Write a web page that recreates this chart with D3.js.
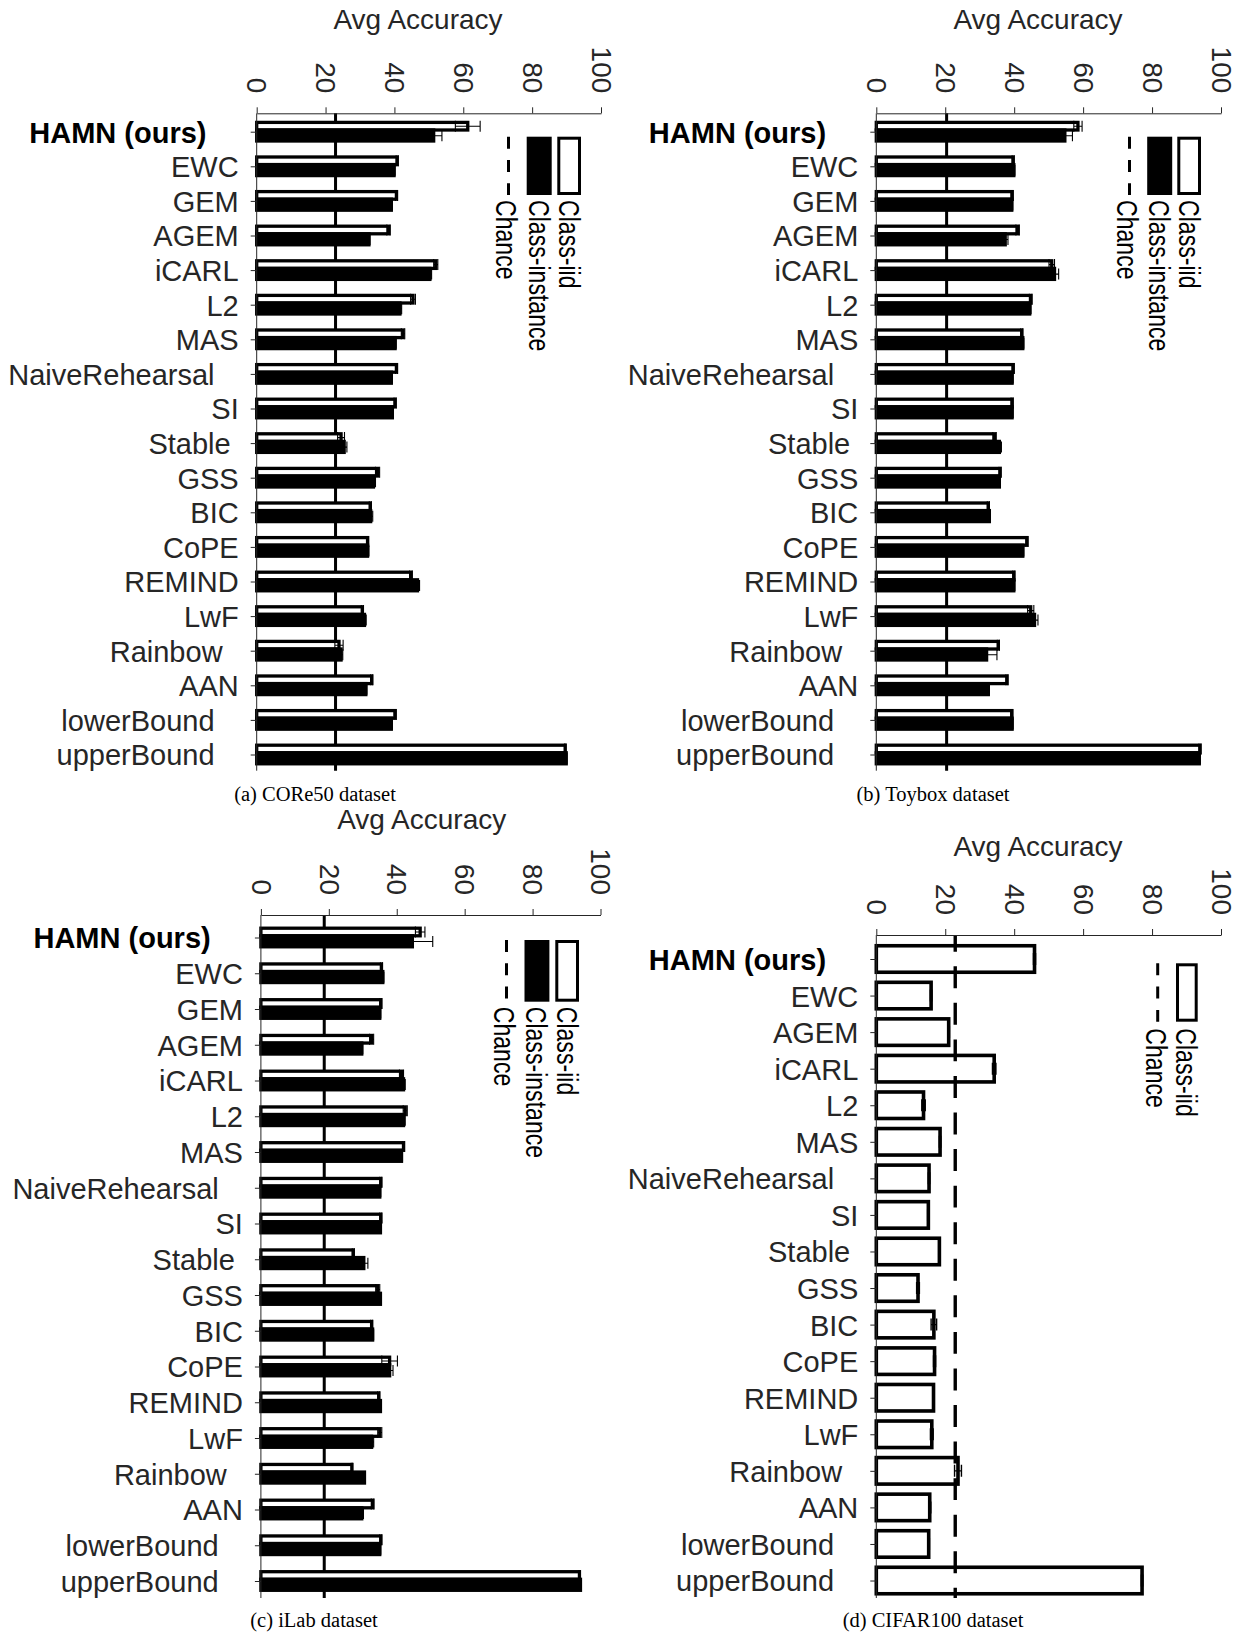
<!DOCTYPE html>
<html>
<head>
<meta charset="utf-8">
<script src="https://cdn.jsdelivr.net/npm/d3@7"></script>
<style>
  html, body { margin: 0; padding: 0; background: #fff; }
  svg text { white-space: pre; }
</style>
</head>
<body>
<svg id="fig" width="1238" height="1635"></svg>
<script>
// ---- data -------------------------------------------------------------
// Method names (trailing blanks are part of the tick labels)
const methods = ["HAMN (ours)    ", "EWC", "GEM", "AGEM", "iCARL", "L2", "MAS",
  "NaiveRehearsal   ", "SI", "Stable ", "GSS", "BIC", "CoPE", "REMIND", "LwF",
  "Rainbow  ", "AAN", "lowerBound   ", "upperBound   "];
const methodsCifar = methods.filter(m => m !== "GEM");

const xTicks = [0, 20, 40, 60, 80, 100];

// CORe50
const core50Iid     = [61.3, 40.8, 40.6, 38.3, 52.0, 45.4, 42.5, 40.6, 40.2, 24.5, 35.1, 33.0, 32.2, 44.8, 30.7, 23.9, 33.4, 40.2, 89.6];
const core50IidErr  = [3.6, 0.3, 0.3, 0.5, 0.6, 0.7, 0.5, 0.3, 0.3, 1.0, 0.6, 0.3, 0.3, 0.4, 0.3, 1.2, 0.3, 0.3, 0.2];
const core50Inst    = [51.4, 39.9, 39.1, 32.6, 50.3, 41.6, 40.2, 39.1, 39.4, 25.4, 33.9, 33.1, 32.2, 46.7, 31.3, 24.5, 31.7, 39.1, 89.9];
const core50InstErr = [2.4, 0.3, 0.3, 0.3, 0.5, 0.5, 0.3, 0.3, 0.3, 0.8, 0.6, 0.6, 0.4, 0.6, 0.5, 0.5, 0.3, 0.3, 0.2];
const core50Chance  = 22.9;

// Toybox
const toyboxIid     = [58.5, 39.7, 39.4, 41.0, 50.9, 44.8, 42.2, 39.7, 39.4, 34.3, 35.9, 32.5, 43.7, 39.9, 44.8, 35.4, 37.9, 39.3, 93.9];
const toyboxIidErr  = [1.2, 0.3, 0.3, 0.5, 0.8, 0.4, 0.3, 0.3, 0.3, 0.5, 0.3, 0.3, 0.3, 0.3, 0.9, 0.3, 0.3, 0.3, 0.3];
const toyboxInst    = [54.7, 39.9, 39.3, 37.4, 51.7, 44.5, 42.5, 39.4, 39.4, 35.7, 35.7, 32.8, 42.5, 39.9, 45.9, 32.0, 32.5, 39.4, 93.7];
const toyboxInstErr = [2.2, 0.3, 0.3, 0.8, 1.2, 0.4, 0.3, 0.3, 0.3, 0.6, 0.3, 0.3, 0.3, 0.3, 1.0, 3.0, 0.3, 0.3, 0.3];
const toyboxChance  = 20.4;

// iLab
const ilabIid     = [46.9, 35.5, 35.3, 32.6, 41.4, 42.5, 42.0, 35.3, 35.3, 27.2, 34.4, 32.6, 37.9, 34.7, 35.0, 26.8, 32.9, 35.3, 93.8];
const ilabIidErr  = [1.4, 0.3, 0.3, 0.6, 0.6, 0.6, 0.3, 0.3, 0.3, 0.3, 0.6, 0.3, 2.3, 0.3, 0.6, 0.2, 0.4, 0.3, 0.2];
const ilabInst    = [44.6, 35.9, 35.0, 29.7, 42.0, 42.0, 41.4, 35.0, 35.2, 30.3, 35.2, 32.9, 37.9, 35.2, 32.6, 30.5, 29.7, 35.0, 94.1];
const ilabInstErr = [6.0, 0.3, 0.3, 0.3, 0.5, 0.5, 0.3, 0.3, 0.3, 1.2, 0.3, 0.3, 1.0, 0.3, 0.6, 0.2, 0.5, 0.3, 0.2];
const ilabChance  = 18.65;

// CIFAR100 (class-iid only)
const cifarIid    = [45.9, 15.9, 21.0, 34.2, 13.7, 18.5, 15.3, 15.1, 18.3, 12.1, 16.7, 16.9, 16.6, 16.1, 23.7, 15.5, 15.2, 77.1];
const cifarIidErr = [0.3, 0.2, 0.2, 0.5, 0.5, 0.2, 0.2, 0.2, 0.2, 0.4, 0.8, 0.3, 0.2, 0.4, 1.0, 0.3, 0.2, 0.2];
const cifarChance = 22.9;

// ---- style ------------------------------------------------------------
const SANS = "'Liberation Sans', Arial, Helvetica, sans-serif";
const SERIF = "'Liberation Serif', 'Times New Roman', Times, serif";
const INK = "#262626";

// ---- layout of the four sub-figures ----------------------------------
const panels = [
  { cats: methods, iid: core50Iid, iidErr: core50IidErr, inst: core50Inst, instErr: core50InstErr,
    chance: core50Chance, caption: "(a) CORe50 dataset",
    x0: 256.7, x1: 601, axisY: 113.3, firstC: 131.7, step: 34.6, bottom: 770.7,
    titleX: 418, titleY: 29, capX: 315, capY: 800.5,
    leg: { iid: [557.3, 581], inst: [526.7, 551.7], chance: 508.5, top: 136.7, bot: 195, text: 200 } },
  { cats: methods, iid: toyboxIid, iidErr: toyboxIidErr, inst: toyboxInst, instErr: toyboxInstErr,
    chance: toyboxChance, caption: "(b) Toybox dataset",
    x0: 876.3, x1: 1221, axisY: 113.3, firstC: 131.7, step: 34.6, bottom: 770.7,
    titleX: 1038, titleY: 29, capX: 933, capY: 800.5,
    leg: { iid: [1177.3, 1201], inst: [1147.2, 1172.2], chance: 1129.5, top: 136.7, bot: 195, text: 200 } },
  { cats: methods, iid: ilabIid, iidErr: ilabIidErr, inst: ilabInst, instErr: ilabInstErr,
    chance: ilabChance, caption: "(c) iLab dataset",
    x0: 260.9, x1: 600.5, axisY: 915, firstC: 937.5, step: 35.75, bottom: 1598,
    titleX: 421.7, titleY: 829, capX: 314, capY: 1626.5,
    leg: { iid: [555.3, 579], inst: [524.5, 549.4], chance: 506.5, top: 940, bot: 1001.7, text: 1006.7 } },
  { cats: methodsCifar, iid: cifarIid, iidErr: cifarIidErr, inst: null, instErr: null,
    chance: cifarChance, caption: "(d) CIFAR100 dataset",
    x0: 876.3, x1: 1221, axisY: 935, firstC: 959, step: 36.56, bottom: 1598,
    titleX: 1038, titleY: 856, capX: 933, capY: 1626.5,
    leg: { iid: [1176, 1197.7], inst: null, chance: 1157.7, top: 963.3, bot: 1021.7, text: 1028.3 } }
];

const svg = d3.select("#fig");

function errPath(x, v, e, yc, cap) {
  const a = x(v - e), b = x(v + e);
  return `M${a},${yc}H${b}M${a},${yc - cap}V${yc + cap}M${b},${yc - cap}V${yc + cap}`;
}

function drawPanel(p) {
  const g = svg.append("g");
  const x = d3.scaleLinear().domain([0, 100]).range([p.x0, p.x1]);
  const y = d3.scalePoint().domain(p.cats)
    .range([p.firstC, p.firstC + p.step * (p.cats.length - 1)]);

  const rows = p.cats.map((c, i) => ({
    c, iid: p.iid[i], iidErr: p.iidErr[i],
    inst: p.inst ? p.inst[i] : null, instErr: p.instErr ? p.instErr[i] : null
  }));

  // bars
  if (p.inst) {
    g.selectAll("rect.iid").data(rows).join("rect").attr("class", "iid")
      .attr("x", x(0)).attr("y", d => y(d.c) - 9.3)
      .attr("width", d => x(d.iid) - x(0)).attr("height", 7.6)
      .attr("fill", "#fff").attr("stroke", "#000").attr("stroke-width", 3.3);
    g.selectAll("rect.inst").data(rows).join("rect").attr("class", "inst")
      .attr("x", x(0)).attr("y", d => y(d.c) - 1.7)
      .attr("width", d => x(d.inst) - x(0)).attr("height", 11)
      .attr("fill", "#000").attr("stroke", "#000").attr("stroke-width", 3.3);
    g.selectAll("path.e1").data(rows).join("path").attr("class", "e1")
      .attr("d", d => errPath(x, d.iid, d.iidErr, y(d.c) - 5.5, 5.5))
      .attr("fill", "none").attr("stroke", "#000").attr("stroke-width", 1.1);
    g.selectAll("path.e2").data(rows).join("path").attr("class", "e2")
      .attr("d", d => errPath(x, d.inst, d.instErr, y(d.c) + 4, 5.5))
      .attr("fill", "none").attr("stroke", "#000").attr("stroke-width", 1.1);
  } else {
    g.selectAll("rect.iid").data(rows).join("rect").attr("class", "iid")
      .attr("x", x(0)).attr("y", d => y(d.c) - 13.25)
      .attr("width", d => x(d.iid) - x(0)).attr("height", 26.5)
      .attr("fill", "#fff").attr("stroke", "#000").attr("stroke-width", 3.6);
    g.selectAll("path.e1").data(rows).join("path").attr("class", "e1")
      .attr("d", d => errPath(x, d.iid, d.iidErr, y(d.c), 6))
      .attr("fill", "none").attr("stroke", "#000").attr("stroke-width", 1.4);
  }

  // chance level (dashed, drawn over the bars)
  const dash = p.step * (p.inst ? 0.5 : 0.6), gap = p.step - dash;
  const dashStart = p.firstC - p.step / 2 - dash / 2 - p.step;
  g.append("line")
    .attr("x1", x(p.chance)).attr("x2", x(p.chance))
    .attr("y1", p.axisY).attr("y2", p.bottom)
    .attr("stroke", "#000").attr("stroke-width", p.inst ? 3 : 3.4)
    .attr("stroke-dasharray", `${dash},${gap}`)
    .attr("stroke-dashoffset", p.axisY - dashStart);

  // top (value) axis
  const ax = g.append("g").attr("transform", `translate(0,${p.axisY})`)
    .call(d3.axisTop(x).tickValues(xTicks).tickSize(6).tickSizeOuter(0))
    .attr("font-family", SANS).attr("font-size", 28).style("color", INK);
  ax.selectAll(".tick text")
    .attr("x", 0).attr("y", 0).attr("dy", "0.35em")
    .attr("text-anchor", "end")
    .attr("transform", "translate(0,-20) rotate(90)");

  // left (method) axis
  const ay = g.append("g").attr("transform", `translate(${p.x0},0)`)
    .call(d3.axisLeft(y).tickSize(6).tickPadding(12))
    .attr("font-family", SANS).attr("font-size", 29).style("color", INK);
  ay.select(".domain").remove();
  ay.selectAll(".tick text")
    .attr("dy", "0.36em")
    .attr("font-weight", d => d.startsWith("HAMN") ? "bold" : null)
    .attr("fill", d => d.startsWith("HAMN") ? "#000" : INK);
  g.append("line")
    .attr("x1", p.x0).attr("x2", p.x0).attr("y1", p.axisY).attr("y2", p.bottom)
    .attr("stroke", INK).attr("stroke-width", 1);

  // axis title
  g.append("text").attr("x", p.titleX).attr("y", p.titleY)
    .attr("text-anchor", "middle").attr("font-family", SANS).attr("font-size", 28)
    .attr("fill", INK).text("Avg Accuracy");

  // legend (rotated)
  const L = p.leg;
  const legItems = [];
  legItems.push({ x: (L.iid[0] + L.iid[1]) / 2, label: "Class-iid" });
  g.append("rect")
    .attr("x", L.iid[0] + 1.5).attr("y", L.top + 1.5)
    .attr("width", L.iid[1] - L.iid[0] - 3).attr("height", L.bot - L.top - 3)
    .attr("fill", "#fff").attr("stroke", "#000").attr("stroke-width", 3);
  if (L.inst) {
    legItems.push({ x: (L.inst[0] + L.inst[1]) / 2, label: "Class-instance" });
    g.append("rect")
      .attr("x", L.inst[0]).attr("y", L.top)
      .attr("width", L.inst[1] - L.inst[0]).attr("height", L.bot - L.top)
      .attr("fill", "#000");
  }
  legItems.push({ x: L.chance - 1.5, label: "Chance" });
  g.append("line")
    .attr("x1", L.chance).attr("x2", L.chance).attr("y1", L.top).attr("y2", L.bot)
    .attr("stroke", "#000").attr("stroke-width", 3)
    .attr("stroke-dasharray", "12,11.3");
  g.selectAll("text.leg").data(legItems).join("text").attr("class", "leg")
    .attr("transform", d => `translate(${d.x},${L.text}) rotate(90) scale(0.77,1)`)
    .attr("dy", "0.35em").attr("font-family", SANS).attr("font-size", 30)
    .attr("fill", "#000").text(d => d.label);

  // caption
  svg.append("text").attr("x", p.capX).attr("y", p.capY)
    .attr("text-anchor", "middle").attr("font-family", SERIF).attr("font-size", 20.5)
    .attr("fill", "#000").text(p.caption);
}

panels.forEach(drawPanel);
</script>
</body>
</html>
